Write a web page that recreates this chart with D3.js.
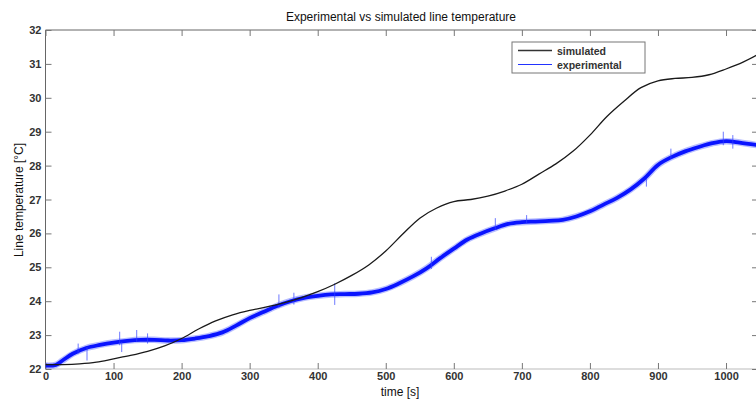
<!DOCTYPE html>
<html>
<head>
<meta charset="utf-8">
<script src="https://cdn.jsdelivr.net/npm/d3@7"></script>
<style>
  body { margin: 0; background: #fff; }
  svg { display: block; font-family: "Liberation Sans", Arial, sans-serif; }
</style>
</head>
<body>
<svg id="chart" width="756" height="401"></svg>
<script>
// values
const simTime = [0, 25, 50, 75, 100, 125, 150, 175, 200, 225, 250, 275, 300, 325, 350, 375, 400, 425, 450, 475, 500,
  525, 550, 575, 600, 625, 650, 675, 700, 725, 750, 775, 800, 825, 850, 875, 900, 925, 950, 975, 1000, 1025, 1047];
const simTemp = [22.13, 22.13, 22.15, 22.2, 22.3, 22.4, 22.52, 22.68, 22.9, 23.18, 23.42, 23.6, 23.73, 23.83, 23.95, 24.1, 24.28,
  24.5, 24.76, 25.07, 25.48, 25.98, 26.45, 26.75, 26.94, 27.0, 27.1, 27.25, 27.45, 27.75, 28.05, 28.42, 28.9, 29.45, 29.9,
  30.3, 30.5, 30.57, 30.6, 30.68, 30.85, 31.05, 31.28];

const expTime = [0, 15, 25, 40, 60, 80, 100, 120, 140, 160, 180, 200, 220, 240, 260, 280, 300, 320, 340, 360, 380, 400,
  420, 440, 460, 480, 500, 520, 540, 560, 580, 600, 620, 640, 660, 680, 700, 720, 740, 760, 780, 800, 820, 840, 860,
  880, 900, 920, 940, 960, 980, 1000, 1020, 1047];
const expTemp = [22.1, 22.12, 22.25, 22.45, 22.62, 22.71, 22.78, 22.83, 22.86, 22.86, 22.84, 22.85, 22.9, 22.97, 23.08,
  23.28, 23.5, 23.68, 23.86, 24.0, 24.1, 24.16, 24.2, 24.21, 24.22, 24.26, 24.36, 24.53, 24.73, 24.97, 25.27, 25.55,
  25.82, 26.0, 26.15, 26.28, 26.33, 26.35, 26.37, 26.4, 26.5, 26.65, 26.85, 27.05, 27.3, 27.62, 28.02, 28.25, 28.42,
  28.55, 28.66, 28.72, 28.68, 28.6];

// occasional spikes in the measured signal
const spikeTime = [48, 61, 109, 112, 134, 150, 343, 365, 425, 567, 661, 707, 883, 919, 996, 1010];
const spikeLow  = [22.45, 22.25, 22.7, 22.5, 22.8, 22.75, 23.8, 23.9, 23.89, 24.95, 26.1, 26.3, 27.38, 28.2, 28.6, 28.5];
const spikeHigh = [22.75, 22.65, 23.1, 22.8, 23.15, 23.05, 24.2, 24.25, 24.53, 25.31, 26.45, 26.54, 27.6, 28.5, 29.0, 28.9];

const xTicks = [0, 100, 200, 300, 400, 500, 600, 700, 800, 900, 1000];
const yTicks = [22, 23, 24, 25, 26, 27, 28, 29, 30, 31, 32];
const seriesNames = ["simulated", "experimental"];

const svg = d3.select("#chart");
const pLeft = 45.5, pRight = 758, pTop = 30, pBottom = 369;

const x = d3.scaleLinear().domain([0, 1047]).range([pLeft, pRight]);
const y = d3.scaleLinear().domain([22, 32]).range([pBottom, pTop]);

// axes box
const axisColor = "#666";
svg.append("line").attr("x1", pLeft).attr("x2", pRight).attr("y1", pTop).attr("y2", pTop).attr("stroke", axisColor);
svg.append("line").attr("x1", pLeft).attr("x2", pLeft).attr("y1", pTop).attr("y2", pBottom).attr("stroke", axisColor);
svg.append("line").attr("x1", pLeft).attr("x2", pRight).attr("y1", pBottom).attr("y2", pBottom).attr("stroke", "#bbb");

svg.append("defs").append("clipPath").attr("id", "plotclip")
  .append("rect").attr("x", pLeft).attr("y", pTop).attr("width", pRight - pLeft).attr("height", pBottom - pTop);

// bottom axis with inward ticks
const xAxis = svg.append("g")
  .attr("transform", `translate(0,${pBottom})`)
  .call(d3.axisBottom(x).tickValues(xTicks).tickSize(-6).tickPadding(3).tickFormat(d3.format("d")));
xAxis.select(".domain").remove();
xAxis.selectAll(".tick line").attr("stroke", "#777");
xAxis.selectAll("text").attr("font-size", 11).attr("font-weight", "bold").attr("fill", "#333");

// top ticks
const xTop = svg.append("g")
  .attr("transform", `translate(0,${pTop})`)
  .call(d3.axisTop(x).tickValues(xTicks).tickSize(-6).tickFormat(""));
xTop.select(".domain").remove();
xTop.selectAll(".tick line").attr("stroke", "#777");

// left axis
const yAxis = svg.append("g")
  .attr("transform", `translate(${pLeft},0)`)
  .call(d3.axisLeft(y).tickValues(yTicks).tickSize(-6).tickPadding(4));
yAxis.select(".domain").remove();
yAxis.selectAll(".tick line").attr("stroke", "#777");
yAxis.selectAll("text").attr("font-size", 11).attr("font-weight", "bold").attr("fill", "#333");

// right ticks (axis line itself is outside the picture)
const yRight = svg.append("g")
  .attr("transform", `translate(${pRight},0)`)
  .call(d3.axisRight(y).tickValues(yTicks).tickSize(-6).tickFormat(""));
yRight.select(".domain").remove();
yRight.selectAll(".tick line").attr("stroke", "#777");

const plot = svg.append("g").attr("clip-path", "url(#plotclip)");

const simData = simTime.map((t, i) => [t, simTemp[i]]);
const expData = expTime.map((t, i) => [t, expTemp[i]]);

const line = d3.line().x(d => x(d[0])).y(d => y(d[1])).curve(d3.curveCatmullRom.alpha(0.5));

// experimental: noisy band drawn as a wide soft stroke plus core
plot.append("path").datum(expData).attr("d", line)
  .attr("fill", "none").attr("stroke", "#4d5cff").attr("stroke-opacity", 0.4).attr("stroke-width", 6.5);
plot.append("path").datum(expData).attr("d", line)
  .attr("fill", "none").attr("stroke", "#0a14ff").attr("stroke-width", 3.8);

plot.selectAll("line.spike")
  .data(spikeTime.map((t, i) => [t, spikeLow[i], spikeHigh[i]]))
  .join("line")
  .attr("class", "spike")
  .attr("x1", d => x(d[0])).attr("x2", d => x(d[0]))
  .attr("y1", d => y(d[1])).attr("y2", d => y(d[2]))
  .attr("stroke", "#3040ff").attr("stroke-opacity", 0.7).attr("stroke-width", 1);

plot.append("path").datum(simData).attr("d", line)
  .attr("fill", "none").attr("stroke", "#1a1a1a").attr("stroke-width", 1.3);

// title and labels
svg.append("text").attr("x", 401).attr("y", 21).attr("text-anchor", "middle")
  .attr("font-size", 12).attr("fill", "#111").text("Experimental vs simulated line temperature");
svg.append("text").attr("x", 400).attr("y", 396).attr("text-anchor", "middle")
  .attr("font-size", 12).attr("fill", "#111").text("time [s]");
svg.append("text").attr("transform", "translate(23,200) rotate(-90)").attr("text-anchor", "middle")
  .attr("font-size", 12).attr("fill", "#111").text("Line temperature [°C]");

// legend
const legend = svg.append("g").attr("transform", "translate(512,42)");
legend.append("rect").attr("width", 133).attr("height", 31)
  .attr("fill", "#fff").attr("stroke", "#777");
const legColors = ["#333", "#2233ff"];
seriesNames.forEach((name, i) => {
  const ly = 8.5 + i * 14;
  legend.append("line").attr("x1", 6).attr("x2", 40).attr("y1", ly).attr("y2", ly)
    .attr("stroke", legColors[i]).attr("stroke-width", i === 0 ? 1.5 : 1);
  legend.append("text").attr("x", 45).attr("y", ly + 4).attr("font-size", 10.5)
    .attr("font-weight", "bold").attr("fill", "#333").text(name);
});
</script>
</body>
</html>
